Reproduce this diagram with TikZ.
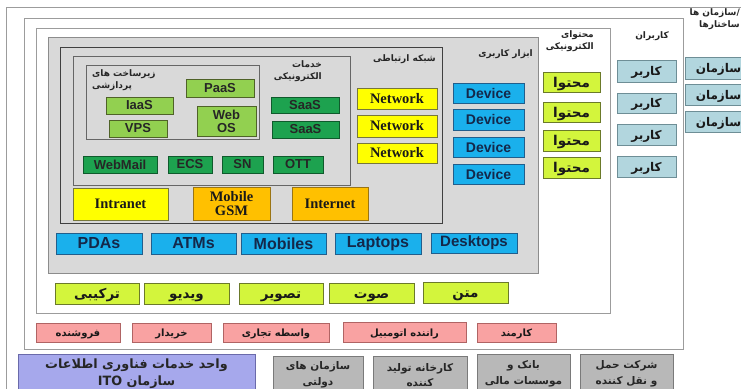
\documentclass[tikz,border=0pt]{standalone}
\usepackage{fontspec}
\setmainfont{Liberation Serif}
\setsansfont{Liberation Sans}
\newfontfamily\fa[Script=Arabic]{DejaVu Sans}
\TeXXeTstate=1
\newcommand\rl[1]{\beginR#1\endR}
% \cell{style}{name}{x1}{y1}{x2}{y2}{text}: box spanning the given corners
\newcommand\cell[7]{\node[#1, minimum width={(#5-#3)*1pt}, minimum height={(#6-#4)*1pt}] (#2) at ({(#3+#5)/2},{(#4+#6)/2}) {#7};}
\definecolor{framegray}{HTML}{9C9C9C}
\definecolor{areagray}{HTML}{D9D9D9}
\definecolor{lgreen}{HTML}{92D050}
\definecolor{lgreenD}{HTML}{4F6228}
\definecolor{dgreen}{HTML}{1DA24F}
\definecolor{dgreenD}{HTML}{0F5A2C}
\definecolor{ylw}{HTML}{FFFF00}
\definecolor{ylwD}{HTML}{77773A}
\definecolor{orng}{HTML}{FFC000}
\definecolor{orngD}{HTML}{9A7414}
\definecolor{blu}{HTML}{1AB0EC}
\definecolor{bluD}{HTML}{215E8C}
\definecolor{navy}{HTML}{14284A}
\definecolor{lime}{HTML}{D3F53C}
\definecolor{limeD}{HTML}{6B7A2A}
\definecolor{usr}{HTML}{B2D6DE}
\definecolor{usrD}{HTML}{6E8E96}
\definecolor{pnk}{HTML}{F9A2A2}
\definecolor{pnkD}{HTML}{B06464}
\definecolor{lav}{HTML}{A6A8EC}
\definecolor{lavD}{HTML}{6A6AAA}
\definecolor{gbx}{HTML}{B8B8B8}
\definecolor{gbxD}{HTML}{7A7A7A}
\begin{document}
\begin{tikzpicture}[x=1pt,y=-1pt,
  frame/.style={draw=framegray, line width=0.8pt},
  darkframe/.style={draw=black!75, line width=0.8pt},
  box/.style={draw, line width=0.7pt, inner sep=0pt, align=center},
  lbl/.style={inner sep=0pt, font=\fa\bfseries\fontsize{9}{12.5}\selectfont, text=black!85},
  lg/.style={box, fill=lgreen, draw=lgreenD, text=black!85, font=\sffamily\bfseries\fontsize{13}{14}\selectfont},
  dg/.style={box, fill=dgreen, draw=dgreenD, text=black!85, font=\sffamily\bfseries\fontsize{13}{14}\selectfont},
  yl/.style={box, fill=ylw, draw=ylwD, text=black!90, font=\rmfamily\bfseries\fontsize{14.5}{15}\selectfont},
  og/.style={box, fill=orng, draw=orngD, text=black!90, font=\rmfamily\bfseries\fontsize{14.5}{15}\selectfont},
  bl/.style={box, fill=blu, draw=bluD, text=navy, font=\sffamily\bfseries\fontsize{16}{16}\selectfont},
  dev/.style={bl, font=\sffamily\bfseries\fontsize{14}{14}\selectfont},
  lm/.style={box, fill=lime, draw=limeD, text=black!90, font=\fa\bfseries\fontsize{13.5}{15}\selectfont, text height=10pt, text depth=0pt},
  us/.style={box, fill=usr, draw=usrD, text=black!90, font=\fa\bfseries\fontsize{12}{15}\selectfont, text height=9pt, text depth=0pt},
  pk/.style={box, fill=pnk, draw=pnkD, text=black!90, font=\fa\bfseries\fontsize{10}{12}\selectfont, text height=8.5pt, text depth=0pt},
  gb/.style={box, fill=gbx, draw=gbxD, text=black!85, font=\fa\bfseries\fontsize{10.5}{15.5}\selectfont},
  lv/.style={box, fill=lav, draw=lavD, text=black!85, font=\fa\bfseries\fontsize{12.8}{17}\selectfont}]
\useasboundingbox (0,0) rectangle (741,388);
\fill[white] (0,0) rectangle (741,388);
\clip (0,0) rectangle (741,388);

% nested frames, outermost first
\draw[frame] (6,7) rectangle (780,410);
\draw[frame] (24,18) rectangle (683,349);
\draw[frame] (36,28) rectangle (610,313);
\draw[frame, fill=areagray, draw=black!45] (48,37) rectangle (538,273);
\draw[darkframe] (60,47) rectangle (442,223);
\draw[darkframe, draw=black!60] (73,56) rectangle (350,185);
\draw[darkframe, draw=black!60] (86,65) rectangle (259,139);

% group captions
\node[lbl, anchor=north west, align=left] (infra) at (92,69) {\rl{زیرساخت های}\\\rl{پردازشی}};
\node[lbl, anchor=north east, align=right] (esvc) at (322,60) {\rl{خدمات}\\\rl{الکترونیکی}};
\node[lbl, anchor=east] (net) at (436,59) {\rl{شبکه ارتباطی}};
\node[lbl, anchor=east] (tools) at (533,54) {\rl{ابزار کاربری}};
\node[lbl, anchor=north east, align=right] (econt) at (594,30) {\rl{محتوای}\\\rl{الکترونیکی}};
\node[lbl, anchor=east] (users) at (669,36) {\rl{کاربران}};
\node[lbl, anchor=north east, align=right] (orgs) at (740,8) {\rl{سازمان ها}\hbox{/}\\\rl{ساختارها}};

% processing infrastructure
\cell{lg}{paas}{186}{79}{254}{97}{PaaS}
\cell{lg}{iaas}{106}{97}{173}{114}{IaaS}
\cell{lg}{vps}{109}{120}{167}{137}{VPS}
\cell{lg, font=\sffamily\bfseries\fontsize{13}{13}\selectfont}{webos}{197}{106}{256}{136}{Web\\OS}

% electronic services
\cell{dg}{saas1}{271}{97}{339}{113}{SaaS}
\cell{dg}{saas2}{272}{121}{339}{138}{SaaS}
\cell{dg}{webmail}{83}{156}{157}{173}{WebMail}
\cell{dg}{ecs}{168}{156}{212}{173}{ECS}
\cell{dg}{sn}{222}{156}{263}{173}{SN}
\cell{dg}{ott}{273}{156}{323}{173}{OTT}

% communication network
\cell{yl}{net1}{357}{88}{437}{109}{Network}
\cell{yl}{net2}{357}{115}{437}{137}{Network}
\cell{yl}{net3}{357}{143}{437}{163}{Network}
\cell{yl}{intranet}{73}{188}{168}{220}{Intranet}
\cell{og, font=\rmfamily\bfseries\fontsize{14.5}{14}\selectfont}{gsm}{193}{187}{270}{220}{Mobile\\GSM}
\cell{og}{internet}{292}{187}{368}{220}{Internet}

% user tools
\cell{dev}{dev1}{453}{83}{524}{103}{Device}
\cell{dev}{dev2}{453}{109}{524}{130}{Device}
\cell{dev}{dev3}{453}{137}{524}{157}{Device}
\cell{dev}{dev4}{453}{164}{524}{184}{Device}
\cell{bl}{pdas}{56}{233}{142}{254}{PDAs}
\cell{bl}{atms}{151}{233}{236}{254}{ATMs}
\cell{bl}{mobiles}{241}{233}{326}{254}{Mobiles}
\cell{bl}{laptops}{335}{233}{421}{254}{Laptops}
\cell{bl, font=\sffamily\bfseries\fontsize{15}{15}\selectfont}{desktops}{431}{233}{517}{253}{Desktops}

% electronic content
\cell{lm}{c1}{543}{72}{600}{92}{\rl{محتوا}}
\cell{lm}{c2}{543}{102}{600}{122}{\rl{محتوا}}
\cell{lm}{c3}{543}{130}{600}{151}{\rl{محتوا}}
\cell{lm}{c4}{543}{157}{600}{178}{\rl{محتوا}}
\cell{lm}{mix}{55}{283}{139}{304}{\rl{ترکیبی}}
\cell{lm}{video}{144}{283}{229}{304}{\rl{ویدیو}}
\cell{lm}{image}{239}{283}{323}{304}{\rl{تصویر}}
\cell{lm}{audio}{329}{283}{414}{303}{\rl{صوت}}
\cell{lm}{text}{423}{282}{508}{303}{\rl{متن}}

% users
\cell{us}{u1}{617}{60}{676}{82}{\rl{کاربر}}
\cell{us}{u2}{617}{93}{676}{113}{\rl{کاربر}}
\cell{us}{u3}{617}{124}{676}{145}{\rl{کاربر}}
\cell{us}{u4}{617}{156}{676}{177}{\rl{کاربر}}
\cell{pk}{seller}{36}{323}{120}{342}{\rl{فروشنده}}
\cell{pk}{buyer}{132}{323}{211}{342}{\rl{خریدار}}
\cell{pk}{broker}{223}{323}{329}{342}{\rl{واسطه تجاری}}
\cell{pk}{driver}{343}{322}{466}{342}{\rl{راننده اتومبیل}}
\cell{pk}{clerk}{477}{323}{556}{342}{\rl{کارمند}}

% organisations
\cell{us}{o1}{685}{57}{752}{79}{\rl{سازمان}}
\cell{us}{o2}{685}{84}{752}{105}{\rl{سازمان}}
\cell{us}{o3}{685}{111}{752}{132}{\rl{سازمان}}
\cell{lv}{ito}{18}{354}{255}{394}{\rl{واحد خدمات فناوری اطلاعات}\\\rl{سازمان \beginL ITO\endL}}
\cell{gb}{gov}{273}{356}{363}{394}{\rl{سازمان های}\\\rl{دولتی}}
\cell{gb}{factory}{373}{356}{467}{394}{\rl{کارخانه تولید}\\\rl{کننده}}
\cell{gb}{bank}{477}{354}{570}{394}{\rl{بانک و}\\\rl{موسسات مالی}}
\cell{gb}{transport}{580}{354}{673}{394}{\rl{شرکت حمل}\\\rl{و نقل کننده}}
\end{tikzpicture}
\end{document}
